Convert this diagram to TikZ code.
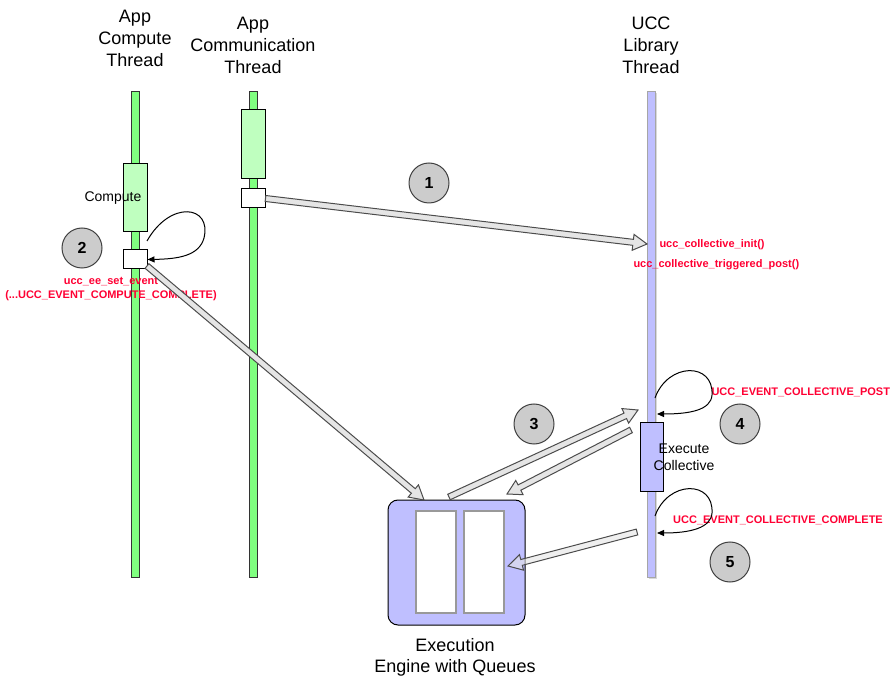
\documentclass[tikz,border=0pt]{standalone}
\usepackage{fontspec}
\setmainfont{Liberation Sans}
\usetikzlibrary{calc,arrows.meta,shadows}
\definecolor{barGreen}{HTML}{80FF80}
\definecolor{boxGreen}{HTML}{BFFFBF}
\definecolor{uccBlue}{HTML}{BFBFFF}
\definecolor{evtRed}{HTML}{FF0033}
\definecolor{stepGray}{HTML}{CCCCCC}
\tikzset{
  thread/.style={draw=black!80, fill=#1, minimum width=8, minimum height=485, inner sep=0},
  actbox/.style={draw=black, fill=#1, minimum width=24, inner sep=0},
  callbox/.style={draw=black, fill=white, minimum width=24, minimum height=19, inner sep=0},
  title/.style={align=center, font=\fontsize{18}{22}\selectfont},
  smalltext/.style={align=center, font=\fontsize{14}{17}\selectfont},
  evt/.style={text=evtRed, align=center, inner sep=0, font=\fontsize{11}{14}\selectfont\bfseries},
  stepnum/.style={circle, draw=black!75, fill=stepGray, minimum size=40, inner sep=0, font=\fontsize{16}{16}\selectfont\bfseries},
  queue/.style={draw=black!40, line width=1.5pt, fill=white, minimum width=40, minimum height=102, inner sep=0},
  flowarrow/.style={draw=black!70, fill=black!10, line join=miter},
  loop/.style={-{Triangle[length=7pt,width=6pt]}, black}
}
% block arrow from #2 to #3
\newcommand{\flowArrow}[3][]{%
  \coordinate (fh) at ($(#3)!14pt!(#2)$);
  \draw[flowarrow,#1] ($(#2)!3pt!90:(#3)$) -- ($(fh)!3pt!-90:(#2)$) -- ($(fh)!8pt!-90:(#2)$)
    -- (#3) -- ($(fh)!8pt!90:(#2)$) -- ($(fh)!3pt!90:(#2)$) -- ($(#2)!3pt!-90:(#3)$) -- cycle;
}

\begin{document}
\begin{tikzpicture}[x=1pt, y=-1pt, line width=1pt]
  \useasboundingbox (0,0) rectangle (892,684);
  % titles
  \node[title] (tcomp) at (135,38) {App\\Compute\\Thread};
  \node[title] (tcomm) at (253,45) {App\\Communication\\Thread};
  \node[title] (tucc) at (651,45) {UCC\\Library\\Thread};
  % life lines
  \node[thread=barGreen] (compute) at (135,334.5) {};
  \node[thread=barGreen] (comm) at (253,334.5) {};
  \node[thread=uccBlue, draw=black!35, drop shadow={opacity=0.3, shadow xshift=1.5pt, shadow yshift=-1.5pt}] (ucc) at (651,334.5) {};
  % compute thread
  \node[actbox=boxGreen, minimum height=68] (cbox) at (135,198) {};
  \node[smalltext] (clabel) at (113,198) {Compute};
  \node[callbox] (cset) at (135,259.5) {};
  % communication thread
  \node[actbox=boxGreen, minimum height=69] (mbox) at (253,144.5) {};
  \node[callbox] (mpost) at (253,198.5) {};
  % ucc thread
  \node[actbox=uccBlue, minimum width=23, minimum height=69] (xbox) at (651.5,457.5) {};
  \node[smalltext] (xlabel) at (684,457) {Execute\\Collective};
  % execution engine
  \node[draw=black, fill=uccBlue, rounded corners=10pt, minimum width=137, minimum height=125, inner sep=0] (engine) at (456.5,562.5) {};
  \node[queue] (q1) at (436,562) {};
  \node[queue] (q2) at (484,562) {};
  \node[title, font=\fontsize{18}{21}\selectfont] (elabel) at (455,657) {Execution\\Engine with Queues};
  % step numbers
  \node[stepnum] (s1) at (429,183) {1};
  \node[stepnum] (s2) at (82,248) {2};
  \node[stepnum] (s3) at (534,424) {3};
  \node[stepnum] (s4) at (740,424) {4};
  \node[stepnum] (s5) at (730,562) {5};
  % event labels
  \node[evt] (setev) at (111,289) {ucc\_ee\_set\_event\\(...UCC\_EVENT\_COMPUTE\_COMPLETE)};
  \node[evt, anchor=west] (init) at (659,245) {ucc\_collective\_init()};
  \node[evt, anchor=west] (tpost) at (633,265) {ucc\_collective\_triggered\_post()};
  \node[evt, anchor=west] (epost) at (711,392) {UCC\_EVENT\_COLLECTIVE\_POST};
  \node[evt] (ecomp) at (778,520) {UCC\_EVENT\_COLLECTIVE\_COMPLETE};
  % self loops
  \coordinate (cl) at (147,241);
  \draw[loop] (cl) .. controls (170,200) and (212,205) .. (204,238) .. controls (199,256) and (178,259) .. (cset.east);
  \coordinate (ul1) at (655,398);
  \coordinate (ue1) at (657,414);
  \draw[loop] (ul1) .. controls (668,362) and (714,362) .. (712,395) .. controls (711,410) and (690,414) .. (ue1);
  \coordinate (ul2) at (655,516);
  \coordinate (ue2) at (657,533);
  \draw[loop] (ul2) .. controls (668,480) and (714,480) .. (712,513) .. controls (711,528) and (690,533) .. (ue2);
  % block arrows
  \coordinate (initpt) at (647,244);
  \flowArrow{mpost.east}{initpt}
  \coordinate (cs) at (147,266);
  \coordinate (etop) at (424,500);
  \flowArrow{cs}{etop}
  \coordinate (up0) at (449,497);
  \coordinate (up1) at (638,410);
  \flowArrow{up0}{up1}
  \coordinate (dn0) at (631,430);
  \coordinate (dn1) at (507,494);
  \flowArrow{dn0}{dn1}
  \coordinate (cp0) at (637,532);
  \coordinate (cp1) at (508,566);
  \flowArrow[fill opacity=0.6]{cp0}{cp1}
\end{tikzpicture}
\end{document}
